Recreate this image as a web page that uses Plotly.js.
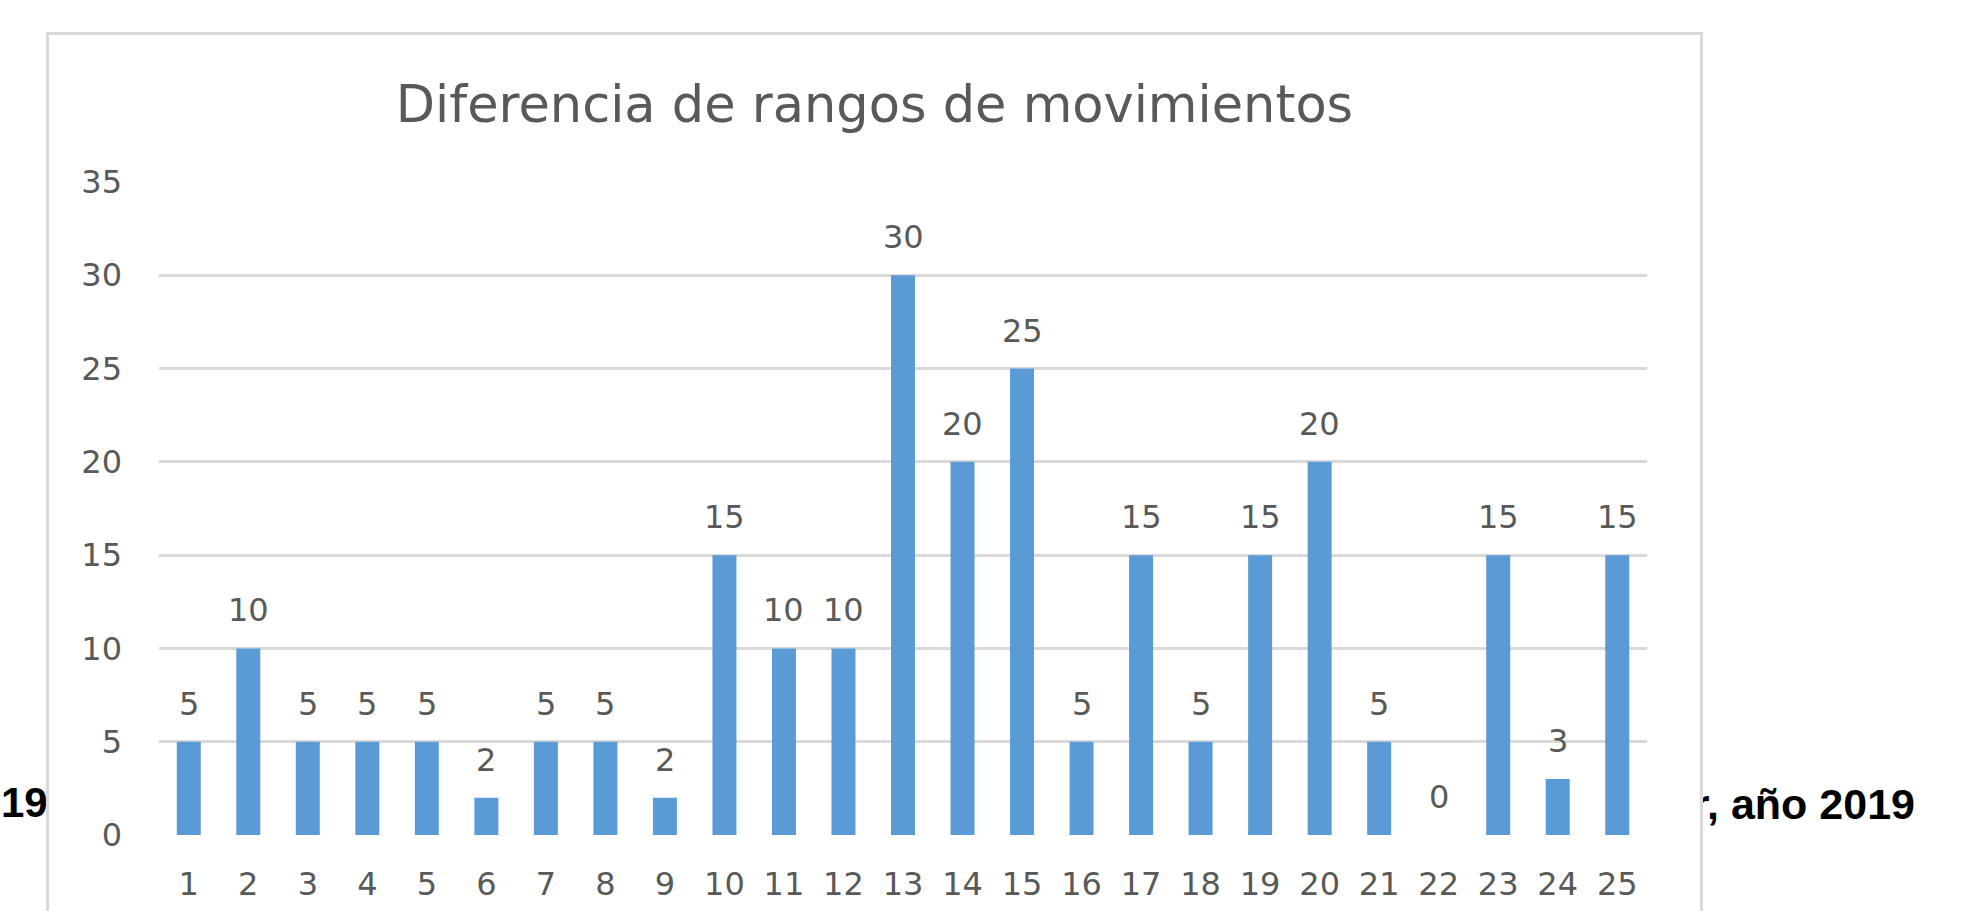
<!DOCTYPE html>
<html>
<head>
<meta charset="utf-8">
<script src="https://cdn.plot.ly/plotly-3.0.1.min.js"></script>
<style>
  html, body { margin: 0; padding: 0; width: 1970px; height: 911px; overflow: hidden; background: #ffffff; }
  #left { position: absolute; left: 1px; top: 779px; font: bold 42px "Liberation Sans", Arial, sans-serif; color: #000; z-index: 1; }
  #right { position: absolute; right: 55px; top: 780px; font: bold 43px "Liberation Sans", Arial, sans-serif; color: #000; z-index: 1; white-space: nowrap; }
  #box { position: absolute; left: 46px; top: 32px; width: 1651px; height: 900px; border: 3px solid #d9d9d9; background: #ffffff; z-index: 2; }
  #chart { width: 1651px; height: 876px; }
</style>
</head>
<body>
<div id="left">19</div>
<div id="right">r, año 2019</div>
<div id="box"><div id="chart"></div></div>
<script>
const chartTitle = "Diferencia de rangos de movimientos";
const categories = ["1","2","3","4","5","6","7","8","9","10","11","12","13","14","15","16","17","18","19","20","21","22","23","24","25"];
const values = [5,10,5,5,5,2,5,5,2,15,10,10,30,20,25,5,15,5,15,20,5,0,15,3,15];
const yTicks = [0,5,10,15,20,25,30,35];

const textColor = "#595959";
const fontFamily = "DejaVu Sans, Open Sans, sans-serif";

const trace = {
  type: "bar",
  x: categories,
  y: values,
  marker: { color: "#5b9bd5", line: { width: 0 } },
  hoverinfo: "x+y"
};

// on a category axis an annotation x is the category index
const annotations = categories.map((c, i) => ({
  x: i, y: values[i], xref: "x", yref: "y",
  text: String(values[i]),
  showarrow: false,
  yanchor: "middle",
  yshift: 38,
  font: { family: fontFamily, size: 32, color: textColor }
}));

const layout = {
  width: 1651,
  height: 876,
  margin: { l: 110, r: 53, t: 147, b: 76 },
  paper_bgcolor: "#ffffff",
  plot_bgcolor: "#ffffff",
  showlegend: false,
  bargap: 0.597,
  title: {
    text: chartTitle,
    x: 0.5, xref: "container", xanchor: "center",
    y: 1 - 69 / 876, yref: "container", yanchor: "middle",
    font: { family: fontFamily, size: 51, color: textColor }
  },
  xaxis: {
    type: "category",
    showgrid: false,
    showline: false,
    zeroline: false,
    ticks: "",
    ticklabelstandoff: 27,
    tickfont: { family: fontFamily, size: 32, color: textColor }
  },
  yaxis: {
    range: [0, 35],
    tickvals: yTicks,
    ticktext: yTicks.map(String),
    showgrid: true,
    gridcolor: "#d9d9d9",
    gridwidth: 3,
    zeroline: false,
    showline: false,
    ticks: "",
    ticklabelstandoff: 36,
    tickfont: { family: fontFamily, size: 32, color: textColor }
  },
  annotations: annotations
};

Plotly.newPlot("chart", [trace], layout, { displayModeBar: false, staticPlot: true });
</script>
</body>
</html>
